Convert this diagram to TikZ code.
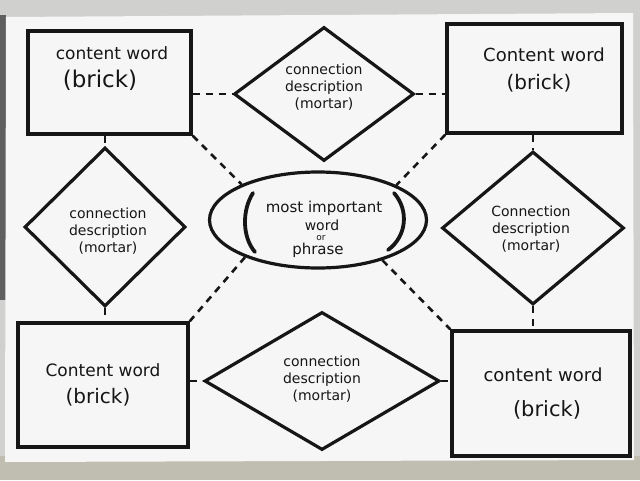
\documentclass[tikz,border=0pt]{standalone}
\usepackage{fontspec}
\setmainfont{DejaVu Sans}
\usetikzlibrary{shapes.geometric}
\definecolor{ink}{RGB}{22,22,22}
\definecolor{paper}{RGB}{246,246,246}
\definecolor{bgray}{RGB}{192,190,176}
\definecolor{lgray}{RGB}{208,208,206}
\definecolor{dgray}{RGB}{95,95,95}
\begin{document}
\begin{tikzpicture}[x=1pt,y=-1pt,
  brick/.style={draw=ink,line width=3.4pt,rectangle,inner sep=0pt},
  mortar/.style={draw=ink,line width=3.2pt,diamond,inner sep=0pt},
  hub/.style={draw=ink,line width=3.2pt,ellipse,inner sep=0pt},
  link/.style={draw=ink,line width=2.6pt,dash pattern=on 7pt off 6pt},
  txt/.style={text=ink,inner sep=0pt,align=center},
  cw/.style={txt,font=\fontsize{#1}{#1}\selectfont},
  mt/.style={txt,font=\fontsize{14}{17}\selectfont},
]
\useasboundingbox (0,0) rectangle (640,480);
% photo background and paper
\fill[lgray] (0,0) rectangle (640,480);
\fill[bgray] (0,456) rectangle (640,480);
\fill[dgray] (0,15) rectangle (6,300);
\fill[paper] (6,17) -- (633,13) -- (634,460) -- (5,462) -- cycle;

% content word boxes (bricks)
\node[brick,minimum width=163pt,minimum height=103pt] (b1) at (109.5,82.5) {};
\node[brick,minimum width=175pt,minimum height=109pt] (b2) at (534.5,78.5) {};
\node[brick,minimum width=170pt,minimum height=124pt] (b3) at (103,385) {};
\node[brick,minimum width=178pt,minimum height=125pt] (b4) at (541,393.5) {};

% connection diamonds (mortar)
\node[mortar,minimum width=180pt,minimum height=134pt] (d1) at (324,94) {};
\node[mortar,minimum width=161pt,minimum height=159pt] (d2) at (105,227) {};
\node[mortar,minimum width=182pt,minimum height=153pt] (d3) at (533,228) {};
\node[mortar,minimum width=235pt,minimum height=138pt] (d4) at (322,381) {};

% central ellipse
\node[hub,minimum width=217pt,minimum height=96pt] (hub) at (318,220) {};
\draw[ink,line width=3.8pt,line cap=round] (253,193) .. controls (242,210) and (242,237) .. (255,252);
\draw[ink,line width=3.8pt,line cap=round] (394,193) .. controls (409,210) and (407,236) .. (388,250);

% texts
\node[cw=17] (t1a) at (112,53) {content word};
\node[cw=23] (t1b) at (100,80) {(brick)};
\node[cw=18] (t2a) at (544,55) {Content word};
\node[cw=20] (t2b) at (539,83) {(brick)};
\node[cw=17] (t3a) at (103,370) {Content word};
\node[cw=20] (t3b) at (98,397) {(brick)};
\node[cw=18] (t4a) at (543,375) {content word};
\node[cw=21] (t4b) at (547,410) {(brick)};

\node[mt] (m1) at (324,87) {connection\\description\\(mortar)};
\node[mt] (m2) at (108,231) {connection\\description\\(mortar)};
\node[mt] (m3) at (531,229) {Connection\\description\\(mortar)};
\node[mt] (m4) at (322,379) {connection\\description\\(mortar)};

\node[cw=15] (h1) at (324,208) {most important};
\node[cw=14] (h2) at (322,225) {word};
\node[cw=9] (h3) at (321,238) {or};
\node[cw=15] (h4) at (318,250) {phrase};

% dashed connectors
\draw[link] (d1.west -| b1.east) -- (d1.west);
\draw[link] (d1.east) -- (d1.east -| b2.west);
\draw[link] (b1.south east) -- (hub.155);
\draw[link] (b2.south west) -- (hub.24);
\draw[link] (hub.207) -- (b3.north east);
\draw[link] (hub.328) -- (b4.north west);
\draw[link] (d2.north |- b1.south) -- (d2.north);
\draw[link] (d3.north |- b2.south) -- (d3.north);
\draw[link] (d2.south) -- (d2.south |- b3.north);
\draw[link] (d3.south) -- (d3.south |- b4.north);
\draw[link] (d4.west -| b3.east) -- (d4.west);
\draw[link] (d4.east) -- (d4.east -| b4.west);
\end{tikzpicture}
\end{document}
